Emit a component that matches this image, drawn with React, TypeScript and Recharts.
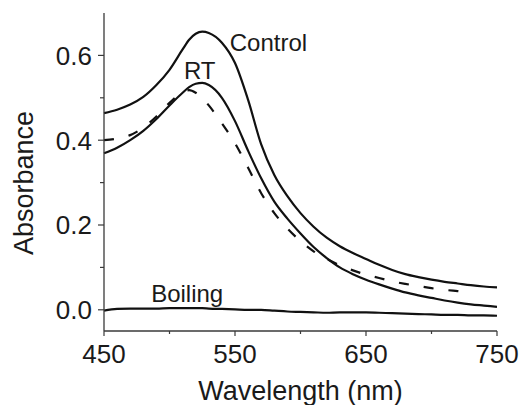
import { LineChart, Line, XAxis, YAxis, ReferenceDot } from "recharts";

// wavelength (nm) sample points
const wavelengths = [
  450, 460, 470, 480, 490, 500, 510, 515, 520, 525, 530, 540, 550, 560, 570, 580,
  590, 600, 610, 620, 630, 640, 650, 660, 670, 680, 690, 700, 710, 720, 730, 740, 750,
];

const controlAbs = [
  0.464, 0.472, 0.484, 0.502, 0.53, 0.566, 0.614, 0.637, 0.651, 0.656, 0.653, 0.63,
  0.582, 0.495, 0.39, 0.318, 0.268, 0.228, 0.196, 0.17, 0.15, 0.134, 0.12, 0.106,
  0.094, 0.084, 0.077, 0.071, 0.066, 0.062, 0.058, 0.055, 0.053,
];

const rtAbs = [
  0.369, 0.382, 0.4, 0.422, 0.45, 0.482, 0.512, 0.525, 0.533, 0.535, 0.53, 0.5, 0.445,
  0.375, 0.31, 0.255, 0.215, 0.18, 0.148, 0.122, 0.1, 0.084, 0.071, 0.06, 0.05, 0.041,
  0.034, 0.028, 0.022, 0.017, 0.013, 0.01, 0.007,
];

// dashed trace (no label in the figure)
const dashedAbs = [
  0.4, 0.404, 0.412, 0.43, 0.456, 0.488, 0.513, 0.518, 0.512, 0.5, 0.482, 0.44, 0.393,
  0.335, 0.275, 0.228, 0.192, 0.162, 0.138, 0.12, 0.105, 0.093, 0.083, 0.075, 0.067,
  0.061, 0.056, 0.051, 0.047, 0.044, 0.041, null, null,
];

const boilingAbs = [
  -0.002, 0.002, 0.003, 0.003, 0.003, 0.004, 0.004, 0.004, 0.004, 0.004, 0.003, 0.002,
  0.001, 0.0, 0.0, -0.002, -0.004, -0.005, -0.006, -0.007, -0.006, -0.006, -0.006,
  -0.007, -0.008, -0.009, -0.01, -0.011, -0.012, -0.012, -0.013, -0.013, -0.014,
];

const xTicks = [450, 500, 550, 600, 650, 700, 750];
const xLabelled = [450, 550, 650, 750];
const yTicks = [0, 0.1, 0.2, 0.3, 0.4, 0.5, 0.6];
const yLabelled = [0, 0.2, 0.4, 0.6];

const data = wavelengths.map((w, i) => ({
  w,
  control: controlAbs[i],
  rt: rtAbs[i],
  dashed: dashedAbs[i],
  boiling: boilingAbs[i],
}));

const FONT = '"Liberation Sans", Arial, sans-serif';
const INK = "#1a1a1a";
const AXIS = "#3a3a3a";

const YTick = (props: any) => {
  const { x, y, payload } = props;
  const major = yLabelled.includes(payload.value);
  return (
    <g>
      <line x1={x - (major ? 6 : 4)} x2={x} y1={y} y2={y} stroke={AXIS} strokeWidth={1.2} />
      {major && (
        <text x={x - 12} y={y} dy="0.36em" textAnchor="end" fontSize={26} fontFamily={FONT} fill={INK}>
          {payload.value.toFixed(1)}
        </text>
      )}
    </g>
  );
};

const XTick = (props: any) => {
  const { x, y, payload } = props;
  const major = xLabelled.includes(payload.value);
  return (
    <g>
      <line x1={x} x2={x} y1={y} y2={y + (major ? 5 : 3)} stroke={AXIS} strokeWidth={1.2} />
      {major && (
        <text x={x} y={y + 32} textAnchor="middle" fontSize={26} fontFamily={FONT} fill={INK}>
          {payload.value}
        </text>
      )}
    </g>
  );
};

const annotation = (text: string) => (props: any) => (
  <text x={props.cx} y={props.cy} fontSize={24} fontFamily={FONT} fill={INK}>
    {text}
  </text>
);

export default function App() {
  return (
    <div style={{ position: "absolute", left: 0, top: 0, background: "#fff" }}>
      <LineChart width={522} height={405} data={data} margin={{ top: 13, right: 25, left: 0, bottom: 0 }}>
        <XAxis
          dataKey="w"
          type="number"
          domain={[450, 750]}
          ticks={xTicks}
          interval={0}
          height={74}
          tickSize={0}
          tickMargin={0}
          tickLine={false}
          tick={<XTick />}
          axisLine={{ stroke: AXIS, strokeWidth: 1.3 }}
          label={({ viewBox }: any) => (
            <text
              x={viewBox.x + viewBox.width / 2}
              y={viewBox.y + 69}
              textAnchor="middle"
              fontSize={27}
              fontFamily={FONT}
              fill={INK}
            >
              Wavelength (nm)
            </text>
          )}
        />
        <YAxis
          type="number"
          domain={[-0.05, 0.7]}
          ticks={yTicks}
          interval={0}
          width={104}
          tickSize={0}
          tickMargin={0}
          tickLine={false}
          tick={<YTick />}
          axisLine={{ stroke: AXIS, strokeWidth: 1.3 }}
          label={({ viewBox }: any) => {
            const cx = viewBox.x + 23;
            const cy = viewBox.y + viewBox.height / 2 + 11;
            return (
              <text
                x={cx}
                y={cy}
                dy="0.36em"
                transform={`rotate(-90 ${cx} ${cy})`}
                textAnchor="middle"
                fontSize={27}
                fontFamily={FONT}
                fill={INK}
              >
                Absorbance
              </text>
            );
          }}
        />
        <Line type="monotone" dataKey="control" stroke="#111" strokeWidth={2.2} dot={false} isAnimationActive={false} />
        <Line type="monotone" dataKey="rt" stroke="#111" strokeWidth={2.2} dot={false} isAnimationActive={false} />
        <Line
          type="monotone"
          dataKey="dashed"
          stroke="#111"
          strokeWidth={2.2}
          strokeDasharray="10 15"
          dot={false}
          connectNulls={false}
          isAnimationActive={false}
        />
        <Line type="monotone" dataKey="boiling" stroke="#111" strokeWidth={2.2} dot={false} isAnimationActive={false} />
        <ReferenceDot x={546} y={0.61} r={0} shape={annotation("Control")} />
        <ReferenceDot x={511} y={0.545} r={0} shape={annotation("RT")} />
        <ReferenceDot x={486} y={0.0195} r={0} shape={annotation("Boiling")} />
      </LineChart>
    </div>
  );
}
